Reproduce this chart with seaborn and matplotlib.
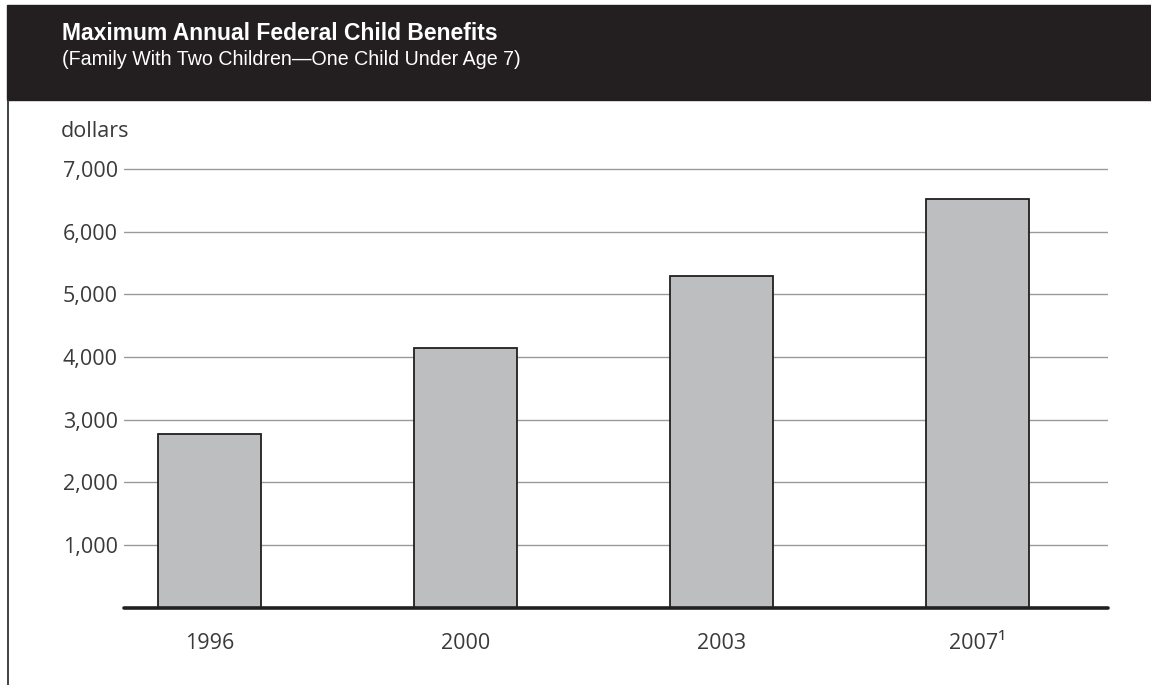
import matplotlib
matplotlib.use("Agg")
import matplotlib.pyplot as plt
import seaborn as sns
import pandas as pd
from matplotlib.patches import Rectangle
from matplotlib.lines import Line2D

# dati
anni = ["1996", "2000", "2003", "2007¹"]
benefici = [2765, 4140, 5290, 6520]
tick_y = [1000, 2000, 3000, 4000, 5000, 6000, 7000]
tick_y_lab = ["1,000", "2,000", "3,000", "4,000", "5,000", "6,000", "7,000"]

titolo = "Maximum Annual Federal Child Benefits"
sottotitolo = "(Family With Two Children\u2014One Child Under Age 7)"

sns.set_style("white")
plt.rcParams['font.family'] = ['Open Sans', 'DejaVu Sans']

df = pd.DataFrame({"anno": anni, "dollari": benefici})

W, H = 1151, 685
fig = plt.figure(figsize=(W / 100, H / 100), dpi=100)
ax = fig.add_axes([124 / W, 0.1128, 984 / W, 0.6679])

sns.barplot(data=df, x="anno", y="dollari", color="#bdbec0", width=0.4,
            edgecolor="#231f20", linewidth=1.3, saturation=1, ax=ax, zorder=3)

ax.set_xlim(-0.334, 3.51)
ax.set_ylim(0, 7300)
ax.set_yticks(tick_y)
ax.set_yticklabels(tick_y_lab)
ax.set_xlabel("")
ax.set_ylabel("")
ax.yaxis.grid(True, color="#9a9a9a", linewidth=1.0, zorder=0)
ax.set_axisbelow(True)
for s in ax.spines.values():
    s.set_visible(False)
ax.tick_params(axis="both", length=0, labelsize=15.5, labelcolor="#3a3a3a")
ax.tick_params(axis="y", pad=4.5)
ax.tick_params(axis="x", pad=18)
ax.axhline(0, color="#231f20", linewidth=2.6, zorder=5, clip_on=False)

# intestazione scura
fig.patches.append(Rectangle((7 / W, 1 - 100 / H), 1 - 7 / W, 95 / H,
                             transform=fig.transFigure, color="#231f20", zorder=0))
fig.lines.append(Line2D([8 / W, 8 / W], [0, 1 - 100 / H], transform=fig.transFigure,
                        color="#333333", linewidth=1.3))
fig.text(62 / W, 1 - 40 / H, titolo, color="white", fontsize=16.5, fontweight="bold",
         family=["Liberation Sans", "DejaVu Sans"], va="baseline")
fig.text(62 / W, 1 - 65 / H, sottotitolo, color="white", fontsize=14.1,
         family=["Liberation Sans", "DejaVu Sans"], va="baseline")
fig.text(61 / W, 1 - 137 / H, "dollars", color="#3a3a3a", fontsize=15.5, va="baseline")

fig.savefig("out.png", dpi=100)
